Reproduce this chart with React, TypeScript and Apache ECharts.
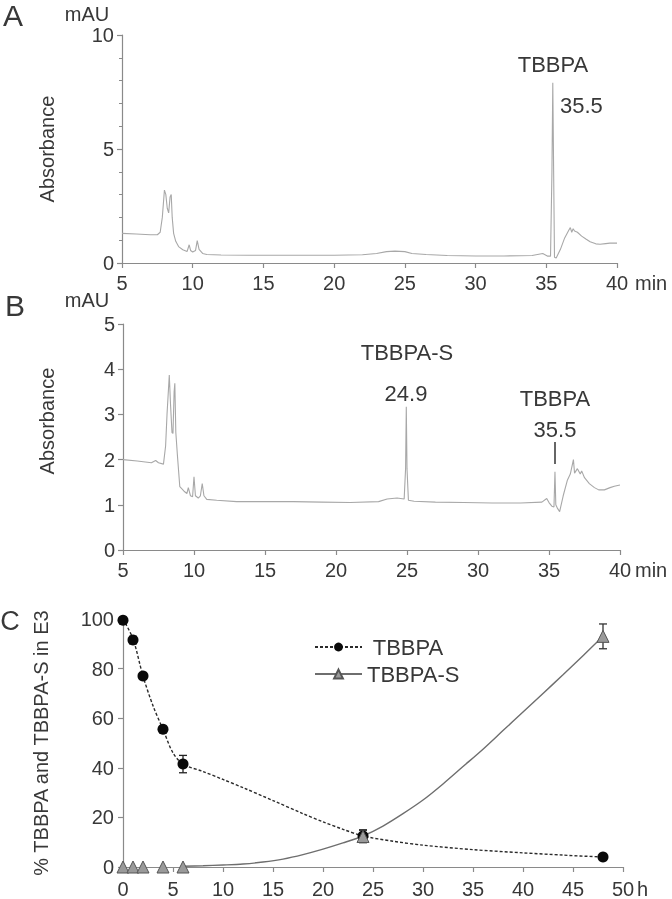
import React, { useEffect, useRef } from 'react';
import * as echarts from 'echarts';

// Panel A chromatogram (time in min, absorbance in mAU)
const traceA: [number, number][] = [
  [5.0, 1.3], [6.0, 1.27], [7.0, 1.24], [7.5, 1.24], [7.7, 1.35], [7.85, 2.0], [8.0, 3.2], [8.1, 3.0],
  [8.2, 2.4], [8.3, 2.2], [8.4, 2.9], [8.48, 3.0], [8.55, 2.0], [8.65, 1.3], [8.8, 0.95], [9.0, 0.72],
  [9.3, 0.58], [9.6, 0.5], [9.75, 0.8], [9.85, 0.55], [10.0, 0.48], [10.2, 0.55], [10.32, 0.98],
  [10.45, 0.6], [10.7, 0.42], [11.0, 0.37], [12, 0.35], [14, 0.34], [16, 0.34], [18, 0.34], [20, 0.34],
  [22, 0.36], [23, 0.42], [23.7, 0.5], [24.3, 0.52], [25.0, 0.5], [25.5, 0.42], [26.5, 0.37], [28, 0.33],
  [30, 0.31], [32, 0.31], [34, 0.33], [34.75, 0.42], [35.1, 0.3], [35.3, 0.3], [35.4, 4.0], [35.46, 7.9],
  [35.52, 4.0], [35.58, 0.25], [35.7, 0.22], [36.0, 0.6], [36.3, 1.1], [36.6, 1.45], [36.7, 1.55],
  [36.8, 1.35], [36.9, 1.5], [37.0, 1.4], [37.2, 1.35], [37.5, 1.18], [37.8, 1.05], [38.1, 0.93],
  [38.5, 0.84], [38.8, 0.82], [39.2, 0.85], [39.5, 0.87], [40, 0.87],
];

// Panel B chromatogram
const traceB: [number, number][] = [
  [5.0, 2.0], [6.0, 1.97], [7.0, 1.93], [7.3, 1.98], [7.5, 1.93], [7.85, 1.9], [8.0, 2.3], [8.1, 3.0],
  [8.26, 3.87], [8.35, 3.2], [8.45, 2.6], [8.52, 2.58], [8.6, 3.5], [8.65, 3.69], [8.72, 2.6], [8.83, 2.1],
  [9.0, 1.4], [9.3, 1.3], [9.5, 1.25], [9.6, 1.38], [9.75, 1.2], [9.9, 1.18], [10.0, 1.62], [10.1, 1.2],
  [10.3, 1.15], [10.45, 1.2], [10.58, 1.47], [10.7, 1.2], [10.9, 1.12], [11.6, 1.1], [13, 1.07], [15, 1.07],
  [17, 1.07], [19, 1.06], [21, 1.05], [23, 1.07], [23.6, 1.13], [24.3, 1.15], [24.8, 1.13], [24.9, 1.8],
  [24.95, 3.17], [25.0, 1.8], [25.1, 1.1], [25.5, 1.08], [27, 1.06], [29, 1.05], [31, 1.04], [33, 1.04],
  [34.5, 1.06], [34.84, 1.14], [35.0, 1.05], [35.2, 0.97], [35.35, 0.95], [35.42, 1.73], [35.48, 1.0],
  [35.6, 0.92], [35.75, 0.85], [36.0, 1.2], [36.3, 1.55], [36.5, 1.68], [36.72, 2.0], [36.8, 1.7],
  [37.0, 1.8], [37.2, 1.68], [37.3, 1.75], [37.5, 1.6], [37.84, 1.47], [38.2, 1.38], [38.5, 1.33],
  [38.9, 1.33], [39.3, 1.38], [39.6, 1.41], [40, 1.44],
];

// Panel C measurements
const hours = [0, 1, 2, 4, 6, 24, 48];
const tbbpa = [99.5, 91.5, 77, 55.5, 41.5, 12.5, 4];
const tbbpaErr = [0, 1.5, 0, 0, 3.5, 2.5, 0];
const tbbpaS = [0, 0, 0, 0, 0, 12.3, 93];
const tbbpaSErr = [0, 0, 0, 0, 0, 2.5, 5];

// Fitted curves
const tbbpaCurve: [number, number][] = [
  [0, 100], [1, 92], [2, 77], [3, 65], [4, 55.5], [5, 46], [6, 41.5], [8, 38.5], [10, 35.3], [12, 32],
  [15, 26.8], [18, 21.5], [20, 18.2], [22, 15.2], [24, 12.5], [27, 10.4], [30, 8.8], [35, 7], [40, 5.7],
  [44, 4.8], [48, 4],
];
const tbbpaSCurve: [number, number][] = [
  [6, 0.3], [8, 0.5], [10, 0.8], [12, 1.2], [14, 2], [16, 3.2], [18, 5], [20, 7.2], [22, 9.7], [24, 12.5],
  [26, 16.5], [28, 21.5], [30, 27], [32, 33.5], [34, 40.5], [36, 47.5], [38, 55], [40, 62.5], [42, 70],
  [44, 77.5], [46, 85.2], [48, 93],
];

const FONT = 'Liberation Sans, Arial, Helvetica, sans-serif';
const TEXT = '#383838';
const AXIS = '#8a8a8a';
const TRACE = '#a8a8a8';

const axisCommon = {
  axisLine: { show: true, lineStyle: { color: AXIS, width: 1.2 } },
  axisTick: { show: true, inside: false, length: 5, lineStyle: { color: AXIS, width: 1.2 } },
  splitLine: { show: false },
};

function errRender(color: string) {
  return (params: any, api: any) => {
    const x = api.value(0);
    const y = api.value(1);
    const e = api.value(2);
    const top = api.coord([x, y + e]);
    const bot = api.coord([x, y - e]);
    const w = 4;
    const style = { stroke: color, lineWidth: 1.3 };
    return {
      type: 'group',
      children: [
        { type: 'line', shape: { x1: top[0], y1: top[1], x2: bot[0], y2: bot[1] }, style },
        { type: 'line', shape: { x1: top[0] - w, y1: top[1], x2: top[0] + w, y2: top[1] }, style },
        { type: 'line', shape: { x1: bot[0] - w, y1: bot[1], x2: bot[0] + w, y2: bot[1] }, style },
      ],
    };
  };
}

export default function App() {
  const ref = useRef<HTMLDivElement>(null);
  useEffect(() => {
    if (!ref.current) return;
    const chart = echarts.init(ref.current, null, { renderer: 'svg' });
    const labelStyle = { color: TEXT, fontSize: 20, fontFamily: FONT };
    const txt = (text: string, x: number, y: number, size: number, align = 'center', extra: any = {}) => ({
      type: 'text',
      x,
      y,
      ...extra,
      style: { text, fill: TEXT, font: `${size}px ${FONT}`, align, verticalAlign: 'middle' },
    });
    const option: any = {
      animation: false,
      textStyle: { fontFamily: FONT },
      grid: [
        { left: 122, top: 35, width: 495, height: 228 },
        { left: 123, top: 324, width: 497, height: 226 },
        { left: 123, top: 619, width: 500, height: 249 },
      ],
      xAxis: [
        { type: 'value', gridIndex: 0, min: 5, max: 40, interval: 5, ...axisCommon, axisLabel: { ...labelStyle, margin: 10 } },
        { type: 'value', gridIndex: 1, min: 5, max: 40, interval: 5, ...axisCommon, axisLabel: { ...labelStyle, margin: 10 } },
        { type: 'value', gridIndex: 2, min: 0, max: 50, interval: 5, ...axisCommon, axisLabel: { ...labelStyle, margin: 12 } },
      ],
      yAxis: [
        {
          type: 'value', gridIndex: 0, min: 0, max: 10, interval: 5, ...axisCommon,
          minorTick: { show: true, splitNumber: 5, length: 3, lineStyle: { color: AXIS } },
          axisLabel: { ...labelStyle, margin: 8 },
          name: 'Absorbance', nameLocation: 'middle', nameGap: 65,
          nameTextStyle: { color: TEXT, fontSize: 20, fontFamily: FONT },
        },
        {
          type: 'value', gridIndex: 1, min: 0, max: 5, interval: 1, ...axisCommon,
          axisLabel: { ...labelStyle, margin: 8 },
        },
        {
          type: 'value', gridIndex: 2, min: 0, max: 100, interval: 20, ...axisCommon,
          axisLabel: { ...labelStyle, margin: 9 },
          name: '% TBBPA and TBBPA-S in E3', nameLocation: 'middle', nameGap: 72,
          nameTextStyle: { color: TEXT, fontSize: 20, fontFamily: FONT },
        },
      ],
      legend: {
        data: ['TBBPA', 'TBBPA-S'],
        orient: 'vertical',
        left: 309,
        top: 631,
        itemWidth: 47,
        itemHeight: 11,
        itemGap: 5,
        formatter: (n: string) => (n === 'TBBPA' ? ' ' + n : n),
        textStyle: { color: TEXT, fontSize: 22, fontFamily: FONT },
      },
      series: [
        {
          name: 'chromA', type: 'line', xAxisIndex: 0, yAxisIndex: 0, data: traceA, showSymbol: false,
          lineStyle: { color: TRACE, width: 1.1 }, silent: true,
        },
        {
          name: 'chromB', type: 'line', xAxisIndex: 1, yAxisIndex: 1, data: traceB, showSymbol: false,
          lineStyle: { color: TRACE, width: 1.1 }, silent: true,
        },
        {
          name: 'TBBPA', type: 'line', xAxisIndex: 2, yAxisIndex: 2, data: tbbpaCurve, smooth: 0.3,
          showSymbol: false, symbol: 'circle',
          lineStyle: { color: '#2a2a2a', width: 1.4, type: [3, 2] },
          itemStyle: { color: '#0a0a0a' },
        },
        {
          name: 'TBBPA-S', type: 'line', xAxisIndex: 2, yAxisIndex: 2, data: tbbpaSCurve, smooth: 0.3,
          showSymbol: false, symbol: 'triangle',
          lineStyle: { color: '#6e6e6e', width: 1.4 },
          itemStyle: { color: '#9a9a9a', borderColor: '#555', borderWidth: 1 },
        },
        {
          name: 'errTBBPA', type: 'custom', xAxisIndex: 2, yAxisIndex: 2, renderItem: errRender('#222'),
          data: hours.map((h, i) => [h, tbbpa[i], tbbpaErr[i]]).filter((d) => d[2] > 0), z: 3,
        },
        {
          name: 'errTBBPAS', type: 'custom', xAxisIndex: 2, yAxisIndex: 2, renderItem: errRender('#333'),
          data: hours.map((h, i) => [h, tbbpaS[i], tbbpaSErr[i]]).filter((d) => d[2] > 0), z: 3,
        },
        {
          name: 'TBBPA', type: 'scatter', xAxisIndex: 2, yAxisIndex: 2, symbol: 'circle', symbolSize: 11,
          data: hours.map((h, i) => [h, tbbpa[i]]), itemStyle: { color: '#0a0a0a', opacity: 1 }, z: 4,
        },
        {
          name: 'TBBPA-S', type: 'scatter', xAxisIndex: 2, yAxisIndex: 2, symbol: 'triangle', symbolSize: 12,
          data: hours.map((h, i) => [h, tbbpaS[i]]),
          itemStyle: { color: '#9a9a9a', borderColor: '#555', borderWidth: 1, opacity: 1 }, z: 5,
        },
      ],
      graphic: [
        txt('A', 13, 15, 30),
        txt('B', 15, 305, 30),
        txt('C', 10, 621, 27),
        txt('mAU', 87, 14, 20),
        txt('mAU', 87, 300, 20),
        txt('min', 635, 283, 20, 'left'),
        txt('min', 635, 570, 20, 'left'),
        txt('h', 637, 889, 20, 'left'),
        txt('Absorbance', 47, 421, 20, 'center', { rotation: Math.PI / 2 }),
        txt('TBBPA', 553, 64, 22),
        txt('35.5', 560, 105, 22, 'left'),
        txt('TBBPA-S', 407, 352, 22),
        txt('24.9', 406, 393, 22),
        txt('TBBPA', 555, 398, 22),
        txt('35.5', 555, 429, 22),
        { type: 'line', shape: { x1: 555, y1: 442, x2: 555, y2: 464 }, style: { stroke: '#333', lineWidth: 1.5 } },
      ],
    };
    chart.setOption(option);
    return () => chart.dispose();
  }, []);
  return <div ref={ref} style={{ position: 'fixed', left: 0, top: 0, width: 672, height: 899 }} />;
}
